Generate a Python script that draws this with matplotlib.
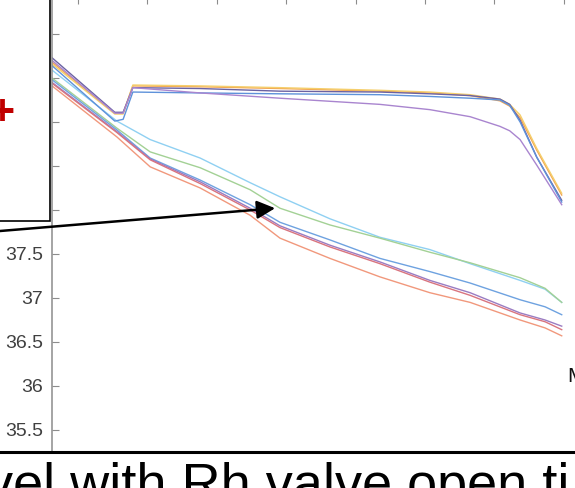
import matplotlib
matplotlib.use("Agg")
import matplotlib.pyplot as plt
from matplotlib.patches import Rectangle
from matplotlib.lines import Line2D

plt.rcParams['font.family'] = ['Liberation Sans', 'DejaVu Sans']

# upper group: valve opened, temperature jumps back up then drops at the end
x_up = [6.25, 15.3, 16.5, 17.9, 27.6, 39.1, 53.5, 60.7, 66.5, 70.8, 72.2, 73.7, 76.1, 79.7]
up_orange = [39.68, 39.10, 39.10, 39.41, 39.40, 39.38, 39.35, 39.33, 39.30, 39.24, 39.18, 39.05, 38.68, 38.17]
up_yellow = [39.66, 39.09, 39.09, 39.42, 39.41, 39.39, 39.36, 39.34, 39.31, 39.26, 39.20, 39.08, 38.70, 38.19]
up_navy = [39.73, 39.11, 39.11, 39.39, 39.38, 39.35, 39.34, 39.32, 39.30, 39.26, 39.20, 39.02, 38.60, 38.11]
up_blue = [39.64, 39.01, 39.03, 39.34, 39.33, 39.32, 39.31, 39.29, 39.27, 39.25, 39.19, 39.00, 38.60, 38.09]
up_purple = [39.70, 39.10, 39.10, 39.39, 39.33, 39.27, 39.20, 39.14, 39.06, 38.95, 38.90, 38.80, 38.51, 38.06]

# lower group: steady cool down
x_low = [6.25, 15.6, 20.4, 27.6, 34.8, 39.1, 46.3, 53.5, 60.7, 66.5, 73.7, 77.3, 79.7]
low_lightblue = [39.59, 39.01, 38.80, 38.59, 38.31, 38.15, 37.90, 37.69, 37.55, 37.39, 37.20, 37.10, 36.95]
low_green = [39.50, 38.93, 38.66, 38.48, 38.23, 38.02, 37.83, 37.68, 37.52, 37.40, 37.23, 37.11, 36.95]
low_blue = [39.48, 38.91, 38.59, 38.34, 38.06, 37.86, 37.66, 37.45, 37.30, 37.17, 36.98, 36.90, 36.81]
low_purple = [39.45, 38.89, 38.58, 38.32, 38.02, 37.82, 37.60, 37.41, 37.20, 37.06, 36.83, 36.75, 36.68]
low_red = [39.44, 38.88, 38.57, 38.30, 38.00, 37.80, 37.58, 37.39, 37.18, 37.03, 36.81, 36.73, 36.64]
low_salmon = [39.41, 38.83, 38.49, 38.25, 37.94, 37.68, 37.45, 37.24, 37.06, 36.95, 36.75, 36.66, 36.57]

upper = [(up_orange, '#f2a552'), (up_yellow, '#f5cf6c'), (up_navy, '#6b62a3'),
         (up_blue, '#5e92da'), (up_purple, '#a985cf')]
lower = [(low_lightblue, '#8fd0f2'), (low_green, '#a3d195'), (low_blue, '#6ea2e0'),
         (low_purple, '#9a7cc2'), (low_red, '#d9747f'), (low_salmon, '#f1987c')]

yticks = [35.5, 36, 36.5, 37, 37.5, 38, 38.5, 39, 39.5, 40]
yticklabels = ['35.5', '36', '36.5', '37', '37.5', '38', '38.5', '39', '39.5', '40']
xticks = [10, 20, 30, 40, 50, 60, 70, 80]

fig = plt.figure(figsize=(5.75, 4.88), dpi=100)
ax = fig.add_axes([52/575, 36/488, 546.5/575, 455/488])

for ys, c in lower:
    ax.plot(x_low, ys, color=c, lw=1.0)
for ys, c in upper:
    ax.plot(x_up, ys, color=c, lw=1.0)

ax.set_xlim(6.25, 85)
ax.set_ylim(35.25, 40.42)
ax.set_xticks(xticks)
ax.set_yticks(yticks)
ax.set_yticklabels(yticklabels)
ax.tick_params(axis='y', direction='in', length=5, width=0.8, color='#8c8c8c',
               labelsize=14, labelcolor='#404040', pad=6.5)
ax.tick_params(axis='x', direction='in', length=5, width=0.8, color='#8c8c8c',
               top=True, bottom=False, labelbottom=False)
for side in ['left', 'top']:
    ax.spines[side].set_color('#8c8c8c')
    ax.spines[side].set_linewidth(1.1)
ax.spines['bottom'].set_visible(False)
ax.spines['right'].set_visible(False)

# annotation arrow coming from the text box on the left
ax.annotate('', xy=(38.4, 38.02), xytext=(0, 257), xycoords='data',
            textcoords='figure pixels', annotation_clip=False,
            arrowprops=dict(arrowstyle='-|>,head_length=11,head_width=5.5',
                            mutation_scale=1, lw=1.8, color='black',
                            shrinkA=0, shrinkB=0),
            zorder=12)

# white text box covering the upper tick labels
fig.add_artist(Rectangle((-5/575, 267/488), 55/575, 226/488, transform=fig.transFigure,
                         facecolor='white', edgecolor='black', lw=1.2, zorder=10))
fig.text(1.5/575, 364/488, '+', color='#c00000', fontsize=31, fontweight='bold',
         ha='center', va='baseline', zorder=11)

fig.text(567/575, 106/488, 'M', color='#111111', fontsize=15, ha='left', va='baseline')

# slide separator and caption below the chart
fig.add_artist(Line2D([0, 1], [36/488, 36/488], transform=fig.transFigure,
                      color='black', lw=2.2, zorder=10))
fig.text(-14/575, -13/488, 'vel with Rh valve open ti', fontsize=39, color='black',
         ha='left', va='baseline')

fig.savefig('out.png', dpi=100)
